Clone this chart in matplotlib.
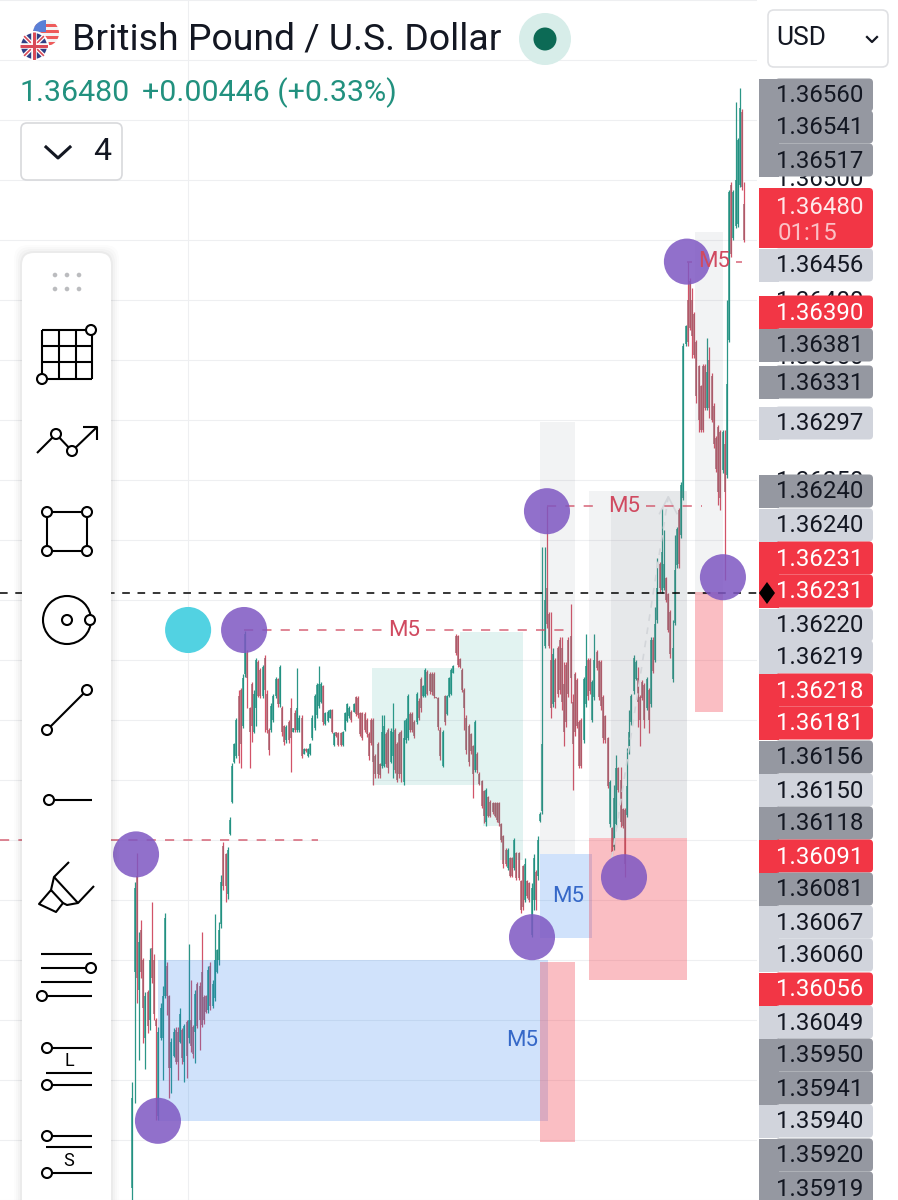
import numpy as np
import matplotlib
matplotlib.use("Agg")
import matplotlib.pyplot as plt
from matplotlib.patches import Circle, FancyBboxPatch, Polygon, Rectangle

plt.rcParams['font.family'] = ['Roboto', 'DejaVu Sans']

# prices are stored as points above 1.36000
BASE_PRICE = 1.36
POINT = 0.00001

highs = [
    -252, -85, -61, -127, -117, -148, -177, -175, -140, -102,
    -145, -198, -206, -186, -172, -111, -152, -179, -215, -207,
    -206, -206, -190, -207, -203, -200, -137, -167, -204, -175,
    -168, -168, -127, -179, -179, -155, -152, -167, -112, -141,
    -118, -79, -52, -61, -56, -31, 14, 31, 52, 75,
    77, 88, 124, 108, 61, 82, 75, 102, 100, 93,
    96, 104, 75, 43, 64, 72, 86, 85, 96, 62,
    46, 46, 50, 68, 43, 58, 93, 54, 54, 27,
    27, 27, 31, 54, 72, 81, 95, 82, 79, 57,
    58, 59, 59, 40, 40, 40, 40, 41, 57, 64,
    62, 58, 64, 70, 70, 57, 57, 57, 52, 40,
    52, 52, 22, 32, 14, 54, 54, 40, 43, 43,
    64, 43, 32, 40, 42, 50, 52, 72, 57, 57,
    50, 73, 68, 86, 79, 93, 92, 90, 90, 90,
    69, 69, 44, 42, 71, 71, 86, 93, 96, 122,
    121, 102, 93, 77, 54, 47, 39, 29, 50, 23,
    7, 0, -8, -7, -13, -17, -18, -18, -18, -18,
    -36, -46, -57, -57, -64, -64, -48, -60, -60, -83,
    -71, -65, -83, -85, -86, -62, -75, -47, -27, 194,
    194, 228, 140, 140, 110, 102, 112, 119, 119, 98,
    98, 119, 147, 72, 90, 85, 50, 52, 86, 122,
    102, 102, 83, 122, 108, 100, 100, 71, 54, 36,
    0, -39, -4, 21, 11, 11, -23, -23, 27, 58,
    72, 104, 100, 94, 71, 83, 81, 86, 77, 119,
    119, 144, 185, 182, 227, 208, 169, 156, 142, 133,
    204, 211, 227, 248, 364, 379, 432, 418, 410, 390,
    367, 346, 329, 347, 347, 368, 361, 339, 314, 287,
    296, 292, 292, 292, 400, 492, 498, 492, 565, 535,
    577, 559, 498,
]
lows = [
    -375, -269, -186, -233, -165, -219, -241, -211, -208, -169,
    -200, -283, -283, -217, -250, -182, -196, -265, -261, -231,
    -237, -250, -219, -237, -252, -248, -219, -227, -232, -236,
    -207, -225, -206, -203, -194, -194, -192, -190, -184, -161,
    -154, -123, -92, -102, -99, -46, -19, 14, 18, 14,
    10, 43, 86, 60, 10, 32, 39, 45, 69, 68,
    68, 40, 39, 21, 40, 48, 68, 61, 61, 37,
    29, 31, 31, 7, 40, 40, 40, 40, 18, 22,
    23, 19, 21, 33, 42, 52, 60, 64, 46, 46,
    48, 52, 39, 28, 36, 28, 28, 28, 41, 48,
    52, 48, 57, 53, 52, 37, 33, 40, 36, 17,
    29, -4, 2, 2, 2, 10, 11, 11, 6, 14,
    2, 6, -2, 2, -2, -4, 31, 33, 40, 40,
    35, 47, 50, 57, 69, 69, 71, 72, 71, 68,
    68, 42, 17, 11, 46, 54, 69, 71, 89, 104,
    94, 93, 73, 42, 22, 12, 22, -15, 7, 6,
    -4, -23, -36, -38, -31, -31, -28, -31, -35, -38,
    -52, -73, -72, -75, -81, -81, -75, -83, -83, -111,
    -108, -102, -98, -102, -131, -108, -108, -83, -35, -28,
    110, 127, 110, 52, 61, 60, 69, 72, 58, 28,
    44, 69, 64, -8, 37, 43, 10, 10, 31, 61,
    67, 72, 48, 67, 92, 67, 58, 31, 31, -7,
    -39, -62, -58, -39, -10, -39, -40, -81, -31, 22,
    46, 72, 83, 44, 28, 67, 43, 58, 39, 61,
    89, 98, 131, 157, 156, 158, 148, 123, 102, 82,
    129, 177, 177, 202, 233, 362, 362, 375, 352, 352,
    314, 290, 290, 290, 308, 308, 302, 298, 277, 257,
    229, 225, 256, 167, 252, 365, 436, 450, 460, 461,
    494, 492, 448,
]
opens = [
    -340, -160, -80, -175, -125, -150, -215, -177, -200, -140,
    -150, -200, -280, -215, -215, -180, -155, -180, -240, -230,
    -208, -210, -218, -208, -235, -202, -215, -200, -206, -210,
    -170, -172, -160, -181, -180, -192, -155, -188, -182, -160,
    -150, -120, -55, -62, -95, -45, -18, 15, 20, 70,
    75, 45, 88, 106, 60, 80, 40, 60, 98, 92,
    70, 102, 72, 42, 42, 50, 70, 84, 63, 60,
    45, 33, 48, 60, 40, 56, 42, 42, 52, 22,
    26, 20, 22, 35, 43, 54, 62, 65, 78, 47,
    49, 52, 58, 29, 40, 39, 39, 29, 42, 49,
    53, 57, 57, 69, 68, 56, 56, 55, 50, 38,
    50, 50, 20, 30, 13, 12, 12, 38, 42, 15,
    20, 42, 30, 38, 40, -2, 33, 35, 55, 55,
    48, 48, 66, 84, 70, 70, 90, 88, 88, 88,
    69, 68, 42, 12, 70, 55, 70, 72, 89, 120,
    120, 101, 92, 75, 52, 45, 38, 28, 8, 22,
    5, -1, -9, -35, -14, -18, -19, -19, -19, -19,
    -37, -47, -58, -73, -65, -65, -73, -61, -61, -84,
    -72, -100, -84, -86, -129, -100, -77, -80, -34, -26,
    112, 160, 138, 100, 63, 100, 110, 117, 110, 80,
    96, 117, 120, 65, 88, 83, 48, 50, 33, 63,
    100, 100, 50, 69, 107, 99, 98, 69, 53, 35,
    -37, -40, -56, -37, 10, 0, -24, -25, -29, 24,
    48, 74, 84, 85, 69, 82, 79, 60, 75, 63,
    117, 100, 133, 180, 158, 160, 168, 155, 140, 84,
    131, 179, 225, 204, 235, 363, 400, 416, 400, 388,
    365, 345, 328, 345, 345, 310, 350, 337, 312, 285,
    294, 290, 258, 280, 254, 367, 496, 452, 462, 463,
    496, 557, 480,
]
closes = [
    -265, -90, -165, -135, -160, -190, -180, -205, -150, -165,
    -195, -205, -210, -190, -180, -115, -180, -240, -218, -210,
    -235, -235, -195, -232, -205, -230, -200, -222, -228, -178,
    -205, -200, -204, -200, -193, -158, -188, -170, -150, -142,
    -125, -85, -88, -88, -58, -33, 12, 30, 50, 20,
    30, 85, 122, 85, 40, 45, 72, 100, 70, 70,
    94, 75, 42, 25, 62, 70, 84, 63, 94, 40,
    32, 44, 33, 35, 43, 42, 60, 52, 20, 26,
    24, 26, 30, 52, 70, 79, 80, 80, 48, 56,
    57, 58, 40, 39, 37, 29, 29, 40, 56, 63,
    60, 50, 63, 55, 54, 38, 35, 42, 38, 20,
    31, 15, 5, 5, 4, 40, 45, 13, 10, 41,
    40, 8, 0, 5, 5, 35, 50, 70, 42, 42,
    37, 72, 52, 60, 78, 92, 72, 74, 73, 70,
    68, 44, 20, 40, 48, 70, 85, 92, 95, 106,
    96, 94, 75, 60, 25, 15, 24, 5, 48, 8,
    -3, -22, -30, -8, -30, -30, -27, -30, -33, -36,
    -50, -70, -70, -58, -80, -80, -50, -82, -82, -108,
    -106, -70, -97, -100, -90, -65, -100, -50, -28, 30,
    150, 130, 112, 60, 105, 65, 72, 75, 65, 40,
    48, 72, 85, 30, 40, 45, 12, 12, 84, 95,
    70, 74, 82, 100, 93, 69, 62, 35, 33, -5,
    -2, -60, -15, 10, -8, -35, -38, -70, -5, 40,
    70, 102, 98, 65, 50, 68, 50, 84, 50, 117,
    91, 130, 160, 160, 190, 180, 150, 125, 105, 110,
    175, 209, 180, 246, 362, 378, 365, 377, 370, 354,
    320, 300, 292, 292, 310, 340, 310, 300, 280, 259,
    240, 235, 290, 240, 330, 490, 438, 490, 500, 533,
    560, 494, 450,
]

# zones: first bar, last bar, top, bottom (points)
blue_zones = [(11.8, 191.6, -150, -284), (187.9, 211.8, -62, -132)]
pink_zones = [(187.9, 204, -152, -302), (210.4, 255.6, -48, -167), (259.3, 272.2, 157, 57)]
grey_zones = [(187.9, 204, 298, -62), (210.4, 255.6, 241, -48), (220.6, 255.6, 241, -48), (259.3, 272.2, 457, 154)]
teal_zones = [(110.5, 151, 93, -4), (151, 180, 123, -4), (161.6, 180, -4, -38), (169.4, 180, -38, -67)]

pivot_bars = [1.7, 11.8, 51.5, 184.2, 191.1, 226.6, 255.6, 272.2]
pivot_points = [-62, -284, 125, -131, 224, -81, 432, 169]
marker_bar = 25.7
marker_point = 125

# M5 levels: first bar, last bar, level, label bar
m5_levels = [(-61, 85.6, -50, None), (51.5, 199.9, 125, 125.2), (191.1, 262.5, 228, 226.6), (255.6, 281, 432, 268)]
blue_labels = [(179.6, -217), (200.8, -97)]
crosshair_point = 156

# price scale rows: label, centre row, kind
ghost_ticks = ["1.36500", "1.36400", "1.36350", "1.36250"]
scale_labels = [
    "1.36560", "1.36541", "1.36517", "1.36456", "1.36390", "1.36381", "1.36331", "1.36297",
    "1.36240", "1.36240", "1.36231", "1.36231", "1.36220", "1.36219", "1.36218", "1.36181",
    "1.36156", "1.36150", "1.36118", "1.36091", "1.36081", "1.36067", "1.36060", "1.36056",
    "1.36049", "1.35950", "1.35941", "1.35940", "1.35920", "1.35919",
]
scale_kinds = "dddlrddldlrrllrrdldrdllrlddldd"
scale_rows = [
    95, 127, 160, 265, 312, 345, 382, 423, 491, 525, 558, 591, 625, 657, 690, 723, 757, 790,
    823, 856, 889, 922, 955, 989, 1022, 1055, 1088, 1121, 1155, 1188,
]
ghost_rows = [180, 302, 357, 482]

TEAL = "#1f9080"
RED = "#d04a60"
PURPLE = "#7e57c2"
SCALE_FONT = 17.3


def to_price(points):
    return BASE_PRICE + np.asarray(points, dtype=float) * POINT


def draw_zones(ax, zones, color, alpha):
    for x0, x1, top, bottom in zones:
        ax.add_patch(Rectangle((x0, to_price(bottom)), x1 - x0, (top - bottom) * POINT,
                               facecolor=color, edgecolor="none", alpha=alpha, zorder=4))


def scale_box(ui, top, height, color):
    # square on the chart side, rounded on the outer side
    ui.add_patch(Rectangle((759, top), 20, height, facecolor=color, edgecolor="none", zorder=2))
    ui.add_patch(FancyBboxPatch((775, top), 98, height, boxstyle="round,pad=0,rounding_size=4",
                                facecolor=color, edgecolor="none", zorder=2))


def tool_circle(ui, x, y, r=5):
    ui.add_patch(Circle((x, y), r, facecolor="white", edgecolor="black", lw=1.5, zorder=12))


def tool_lines(ui, *segments):
    for seg in segments:
        xs, ys = zip(*seg)
        ui.plot(xs, ys, color="black", lw=1.5, solid_capstyle="butt", zorder=11)


fig = plt.figure(figsize=(8.98, 12), dpi=100)
fig.patch.set_facecolor("white")

# chart area stops where the price scale starts
ax = fig.add_axes([0, 0, 757 / 898, 1])
ax.set_xlim(-61, 287.9)
ax.set_ylim(to_price(-350), to_price(650))
ax.set_yticks(to_price(np.arange(-350, 651, 50)))
ax.set_xticks([marker_bar])
ax.tick_params(length=0, labelleft=False, labelbottom=False)
ax.grid(color="#eeeff1", lw=0.8)
ax.set_axisbelow(True)
for s in ax.spines.values():
    s.set_visible(False)

bars = np.arange(len(highs))
colors = [TEAL if c >= o else RED for o, c in zip(opens, closes)]
ax.vlines(bars, to_price(lows), to_price(highs), colors=colors, lw=0.9, alpha=0.95, zorder=3)
body_colors = [TEAL if c >= o else "#a75a68" for o, c in zip(opens, closes)]
ax.vlines(bars, to_price(opens), to_price(closes), colors=body_colors, lw=1.3, alpha=0.8, zorder=3)

draw_zones(ax, teal_zones, "#26a69a", 0.13)
draw_zones(ax, grey_zones, "#787b86", 0.09)
draw_zones(ax, blue_zones, "#2a7ff0", 0.22)
draw_zones(ax, pink_zones, "#f23645", 0.32)

# faint projection arrow in the grey box
ax.plot([221, 247], to_price([-65, 236]), color="#d3d6da", lw=1.2, ls=(0, (4, 4)), zorder=5)
ax.plot([243, 247, 251], to_price([222, 236, 222]), color="#d3d6da", lw=1.2, zorder=5)

for x0, x1, level, label_bar in m5_levels:
    if label_bar is None:
        ax.hlines(to_price(level), x0, x1, color=RED, lw=1.1, ls=(0, (6, 6)), alpha=0.85, zorder=6)
    else:
        # the dashes stop either side of the label
        ax.hlines(to_price(level), x0, label_bar - 10, color=RED, lw=1.1, ls=(0, (6, 6)), alpha=0.85, zorder=6)
        ax.hlines(to_price(level), label_bar + 10, x1, color=RED, lw=1.1, ls=(0, (6, 6)), alpha=0.85, zorder=6)
        ax.text(label_bar, to_price(level), "M5", color=RED, fontsize=16, ha="center", va="center", zorder=8)
for bar, pts in blue_labels:
    ax.text(bar, to_price(pts), "M5", color="#3568c8", fontsize=16, ha="center", va="center", zorder=8)

ax.hlines(to_price(crosshair_point), -61, 287.9, color="black", lw=1.1, ls=(0, (5, 5)), zorder=7)

ax.scatter(pivot_bars, to_price(pivot_points), s=1100, color=PURPLE, alpha=0.85, edgecolors="none", zorder=7)
ax.scatter([marker_bar], to_price([marker_point]), s=1100, color="#52d2e2", edgecolors="none", zorder=7)

# everything screen-fixed goes on an overlay in pixels
ui = fig.add_axes([0, 0, 1, 1], zorder=5)
ui.set_xlim(0, 898)
ui.set_ylim(1200, 0)
ui.axis("off")
ui.patch.set_visible(False)

for g, r in zip(ghost_ticks, ghost_rows):
    ui.text(820, r, g, fontsize=SCALE_FONT, color="#131722", ha="center", va="center", zorder=1)

box_colors = {"d": "#9598a1", "l": "#d1d4dc", "r": "#f23645"}
for label, kind, row in zip(scale_labels, scale_kinds, scale_rows):
    scale_box(ui, row - 16.5, 33, box_colors[kind])
    ui.text(820, row + 1, label, fontsize=SCALE_FONT, color="white" if kind == "r" else "#131722",
            ha="center", va="center", zorder=3)

# last price block with countdown
scale_box(ui, 188, 60, "#f23645")
ui.text(820, 207, "1.36480", fontsize=SCALE_FONT, color="#ffe9ea", ha="center", va="center", zorder=3)
ui.text(778, 234, "01:15", fontsize=SCALE_FONT, color="#fbc0c5", ha="left", va="center", zorder=3)

ui.add_patch(Polygon([(759, 593), (767, 582), (775, 593), (767, 604)], facecolor="black", edgecolor="none", zorder=4))

# header
ui.text(72, 40, "British Pound / U.S. Dollar", fontsize=26.9, color="#131722", ha="left", va="center", zorder=9)
ui.text(19, 93, "1.36480", fontsize=21.9, color="#22917f", ha="left", va="center", zorder=9)
ui.text(142, 93, "+0.00446 (+0.33%)", fontsize=21.9, color="#22917f", ha="left", va="center", zorder=9)
ui.add_patch(Circle((545, 39), 26, facecolor="#d7ede9", edgecolor="none", zorder=9))
ui.add_patch(Circle((545, 39), 11.5, facecolor="#0c6a55", edgecolor="none", zorder=10))

# flags
us = Circle((46, 33), 13, facecolor="#f4f4f4", edgecolor="none", zorder=9)
ui.add_patch(us)
for row in (24, 30, 36, 42):
    stripe = Rectangle((32, row), 28, 3, facecolor="#ee5b5b", edgecolor="none", zorder=9)
    ui.add_patch(stripe)
    stripe.set_clip_path(us)
canton = Rectangle((32, 19), 14, 13, facecolor="#5a7fd6", edgecolor="none", zorder=9)
ui.add_patch(canton)
canton.set_clip_path(us)
uk = Circle((34, 46), 14, facecolor="#2f3f85", edgecolor="white", lw=1.5, zorder=10)
ui.add_patch(uk)
for seg, c, w in [
    ([(20, 32), (48, 60)], "white", 3), ([(48, 32), (20, 60)], "white", 3),
    ([(20, 32), (48, 60)], "#d94a57", 1.2), ([(48, 32), (20, 60)], "#d94a57", 1.2),
    ([(34, 32), (34, 60)], "white", 4), ([(20, 46), (48, 46)], "white", 4),
    ([(34, 32), (34, 60)], "#d94a57", 2.2), ([(20, 46), (48, 46)], "#d94a57", 2.2),
]:
    xs, ys = zip(*seg)
    ln, = ui.plot(xs, ys, color=c, lw=w, zorder=10, solid_capstyle="butt")
    ln.set_clip_path(uk)

# collapse button and currency picker
ui.add_patch(FancyBboxPatch((21, 123), 101, 57, boxstyle="round,pad=0,rounding_size=6",
                            facecolor="white", edgecolor="#d8d9dc", lw=1.2, zorder=9))
ui.plot([46, 58, 70], [147, 158, 147], color="#131722", lw=2.2, zorder=10)
ui.text(102, 152, "4", fontsize=23, color="#131722", ha="center", va="center", zorder=10)
ui.add_patch(FancyBboxPatch((768, 10), 120, 57, boxstyle="round,pad=0,rounding_size=6",
                            facecolor="white", edgecolor="#e0e1e4", lw=1.2, zorder=9))
ui.text(776, 38, "USD", fontsize=19, color="#131722", ha="left", va="center", zorder=10)
ui.plot([867, 872, 877], [37, 42, 37], color="#131722", lw=1.6, zorder=10)

# drawing tools panel
for grow, a in [(8, 0.012), (6, 0.016), (4, 0.02), (2, 0.03)]:
    ui.add_patch(FancyBboxPatch((22 - grow, 253 - grow), 89 + 2 * grow, 1000, boxstyle="round,pad=0,rounding_size=14",
                                facecolor="black", edgecolor="none", alpha=a, zorder=10))
ui.add_patch(FancyBboxPatch((22, 253), 89, 1000, boxstyle="round,pad=0,rounding_size=12",
                            facecolor="white", edgecolor="none", zorder=10))
for dx in (55, 67, 79):
    for dy in (275, 289):
        ui.add_patch(Circle((dx, dy), 2.3, facecolor="#bbbcbf", edgecolor="none", zorder=11))

# grid tool
for gx in (42, 59, 76, 92):
    tool_lines(ui, [(gx, 330), (gx, 379)])
for gy in (330, 346, 362, 379):
    tool_lines(ui, [(42, gy), (92, gy)])
tool_circle(ui, 91, 330)
tool_circle(ui, 42, 379)
# trend
tool_lines(ui, [(37, 453), (56, 434), (72, 451), (96, 428)], [(83, 427), (97, 427), (97, 440)])
tool_circle(ui, 56, 434)
tool_circle(ui, 72, 451)
# rectangle
tool_lines(ui, [(47, 512), (87, 512), (87, 551), (47, 551), (47, 512)])
for cx, cy in [(47, 512), (87, 512), (47, 551), (87, 551)]:
    tool_circle(ui, cx, cy)
# circle
ui.add_patch(Circle((67, 620), 24, facecolor="none", edgecolor="black", lw=1.5, zorder=11))
tool_circle(ui, 67, 620)
tool_circle(ui, 90, 620)
# line
tool_lines(ui, [(47, 730), (87, 690)])
tool_circle(ui, 47, 730)
tool_circle(ui, 87, 690)
# ray
tool_lines(ui, [(49, 800), (92, 800)])
tool_circle(ui, 49, 800)
# highlighter
tool_lines(ui, [(69, 862), (54, 877), (51, 890), (39, 904), (56, 912), (63, 903), (51, 890)],
           [(54, 877), (78, 903), (94, 886)], [(63, 903), (67, 905), (78, 903)])
# parallel channel
for gy in (954, 968, 982, 996):
    tool_lines(ui, [(41, gy), (92, gy)])
tool_circle(ui, 91, 968)
tool_circle(ui, 42, 996)
# long position
tool_lines(ui, [(47, 1048), (92, 1048)], [(46, 1073), (92, 1073)], [(47, 1085), (92, 1085)])
tool_circle(ui, 47, 1048)
tool_circle(ui, 47, 1085)
ui.text(69, 1061, "L", fontsize=13, color="black", ha="center", va="center", zorder=12)
# short position
tool_lines(ui, [(47, 1136), (92, 1136)], [(46, 1147), (92, 1147)], [(47, 1173), (92, 1173)])
tool_circle(ui, 47, 1136)
tool_circle(ui, 47, 1173)
ui.text(69, 1161, "S", fontsize=13, color="black", ha="center", va="center", zorder=12)

fig.savefig("out.png", dpi=100, facecolor="white")
